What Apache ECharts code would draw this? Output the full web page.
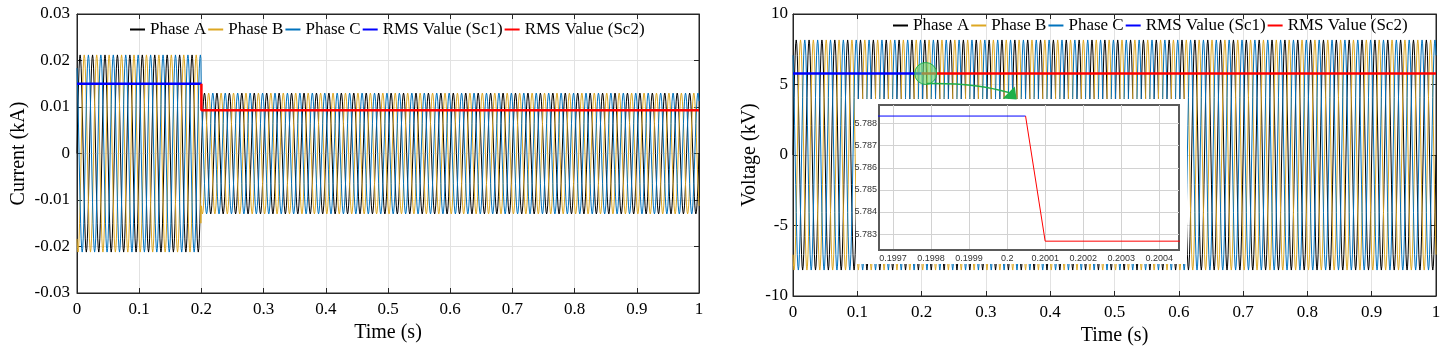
<!DOCTYPE html>
<html><head><meta charset="utf-8">
<script src="https://cdn.jsdelivr.net/npm/echarts@6/dist/echarts.min.js"></script>
<style>html,body{margin:0;padding:0;background:#fff}#c{width:1448px;height:356px}</style>
</head><body><div id="c"></div><script>
// ---------------- data ----------------
const seriesNames = ['Phase A', 'Phase B', 'Phase C', 'RMS Value (Sc1)', 'RMS Value (Sc2)'];
const seriesColors = ['#000000', '#DDA722', '#0072BD', '#0000FF', '#FF0000'];
// one 50 Hz cycle of the normalised phase waveform (24 samples)
const unitCycle = [0, 0.2588, 0.5, 0.7071, 0.866, 0.9659, 1, 0.9659, 0.866, 0.7071, 0.5, 0.2588,
                   0, -0.2588, -0.5, -0.7071, -0.866, -0.9659, -1, -0.9659, -0.866, -0.7071, -0.5, -0.2588];
const cyclesPerSecond = 50;
const phaseLagSamples = [0, 8, 16];
const timeEnd = 1;
// current panel (kA)
const currentSegStart = [0, 0.2];
const currentPeak = [0.0212, 0.0130];
const currentRmsSc1 = [[0, 0.0150], [0.2, 0.0150]];
const currentRmsSc2 = [[0.2, 0.0150], [0.2, 0.0093], [1, 0.0093]];
// voltage panel (kV)
const voltageSegStart = [0];
const voltagePeak = [8.16];
const voltageRmsSc1 = [[0, 5.788], [0.2, 5.788]];
const voltageRmsSc2 = [[0.2, 5.783], [1, 5.783]];
// inset (zoom around t = 0.2 s)
const insetRmsSc1 = [[0.1996, 5.78834], [0.2000485, 5.78834]];
const insetRmsSc2 = [[0.2000485, 5.78834], [0.2001, 5.78268], [0.2005, 5.78268]];
const insetXTicks = [0.1997, 0.1998, 0.1999, 0.2, 0.2001, 0.2002, 0.2003, 0.2004];
const insetYTicks = [5.783, 5.784, 5.785, 5.786, 5.787, 5.788];
const zoomMarker = [0.2064, 5.78];

// ---------------- build ----------------
const FONT = 'Liberation Serif';
function buildPhase(k, segStart, segPeak) {
  const n = unitCycle.length;
  const dt = 1 / (cyclesPerSecond * n);
  const total = Math.round(timeEnd / dt);
  const segIdx = segStart.map(s => Math.round(s / dt));
  const pts = [];
  for (let i = 0; i <= total; i++) {
    let s = 0;
    for (let j = 0; j < segIdx.length; j++) if (i >= segIdx[j]) s = j;
    pts.push([i * dt, segPeak[s] * unitCycle[(i - phaseLagSamples[k] + n * 100) % n]]);
  }
  return pts;
}
function line(name, data, xi, yi, width, extra) {
  const c = seriesColors[seriesNames.indexOf(name)];
  return Object.assign({
    type: 'line', name: name, data: data, xAxisIndex: xi, yAxisIndex: yi,
    symbol: 'none', showSymbol: false, animation: false, silent: true,
    lineStyle: { color: c, width: width }, itemStyle: { color: c }
  }, extra || {});
}
const AX = '#262626';
function xMain(grid, name, gap) {
  return [{
    gridIndex: grid, type: 'value', min: 0, max: 1, interval: 0.1, position: 'bottom',
    axisLine: { show: true, onZero: false, lineStyle: { color: AX, width: 1 } },
    axisTick: { inside: true, length: 5, lineStyle: { color: AX } },
    axisLabel: { fontFamily: FONT, fontSize: 17, color: '#000', margin: 8 },
    splitLine: { show: true, lineStyle: { color: '#e2e2e2' } },
    name: name, nameLocation: 'middle', nameGap: gap,
    nameTextStyle: { fontFamily: FONT, fontSize: 20, color: '#000' }
  }, {
    gridIndex: grid, type: 'value', min: 0, max: 1, interval: 0.1, position: 'top',
    axisLine: { show: true, onZero: false, lineStyle: { color: AX, width: 1 } },
    axisTick: { inside: true, length: 5, lineStyle: { color: AX } },
    axisLabel: { show: false }, splitLine: { show: false }
  }];
}
function yMain(grid, min, max, interval, name, gap, margin) {
  return [{
    gridIndex: grid, type: 'value', min: min, max: max, interval: interval, position: 'left',
    axisLine: { show: true, onZero: false, lineStyle: { color: AX, width: 1 } },
    axisTick: { show: true, inside: true, length: 5, lineStyle: { color: AX } },
    axisLabel: { fontFamily: FONT, fontSize: 17, color: '#000', margin: margin },
    splitLine: { show: true, lineStyle: { color: '#e2e2e2' } },
    name: name, nameLocation: 'middle', nameGap: gap,
    nameTextStyle: { fontFamily: FONT, fontSize: 20, color: '#000' }
  }, {
    gridIndex: grid, type: 'value', min: min, max: max, interval: interval, position: 'right',
    axisLine: { show: true, onZero: false, lineStyle: { color: AX, width: 1 } },
    axisTick: { show: true, inside: true, length: 5, lineStyle: { color: AX } },
    axisLabel: { show: false }, splitLine: { show: false }
  }];
}
const legendBase = {
  data: seriesNames, icon: 'rect', itemWidth: 15, itemHeight: 2, itemGap: 2,
  selectedMode: false, padding: 0,
  textStyle: { fontFamily: FONT, fontSize: 17, color: '#000' }
};

const series = [];
for (let k = 0; k < 3; k++) series.push(line(seriesNames[k], buildPhase(k, currentSegStart, currentPeak), 0, 0, 1));
series.push(line(seriesNames[3], currentRmsSc1, 0, 0, 2.5));
series.push(line(seriesNames[4], currentRmsSc2, 0, 0, 2.5));
for (let k = 0; k < 3; k++) series.push(line(seriesNames[k], buildPhase(k, voltageSegStart, voltagePeak), 2, 2, 1));
series.push(line(seriesNames[3], voltageRmsSc1, 2, 2, 2.5));
series.push(line(seriesNames[4], voltageRmsSc2, 2, 2, 2.5));
series.push(line(seriesNames[3], insetRmsSc1, 4, 4, 1, { zlevel: 1, z: 5 }));
series.push(line(seriesNames[4], insetRmsSc2, 4, 4, 1, { zlevel: 1, z: 5 }));

const insetLabel = { fontFamily: 'Liberation Sans', fontSize: 9, color: '#333' };
const option = {
  animation: false,
  backgroundColor: '#fff',
  grid: [
    { left: 77, top: 14, width: 622, height: 279, show: true, borderColor: AX, borderWidth: 1, backgroundColor: 'transparent' },
    { left: 793, top: 14, width: 643, height: 282, show: true, borderColor: AX, borderWidth: 1, backgroundColor: 'transparent' },
    { left: 879, top: 105, width: 300, height: 145, show: true, borderColor: '#5a5a5a', borderWidth: 2, backgroundColor: '#fff', zlevel: 1, z: 1 }
  ],
  legend: [
    Object.assign({ left: 130, top: 21 }, legendBase),
    Object.assign({ left: 893, top: 17 }, legendBase)
  ],
  xAxis: [].concat(xMain(0, 'Time (s)', 30), xMain(1, 'Time (s)', 28), [{
    gridIndex: 2, type: 'value', min: 0.199663, max: 0.200452, zlevel: 1, z: 3,
    axisLine: { show: true, onZero: false, lineStyle: { color: '#5a5a5a', width: 2 } },
    axisTick: { show: false, customValues: insetXTicks },
    axisLabel: Object.assign({ margin: 4, customValues: insetXTicks, formatter: v => String(parseFloat(v.toFixed(4))) }, insetLabel),
    splitLine: { show: true, lineStyle: { color: '#d2d2d2' } }
  }]),
  yAxis: [].concat(yMain(0, -0.03, 0.03, 0.01, 'Current (kA)', 48, 7), yMain(1, -10, 10, 5, 'Voltage (kV)', 33, 5), [{
    gridIndex: 2, type: 'value', min: 5.78228, max: 5.78884, zlevel: 1, z: 3,
    axisLine: { show: true, onZero: false, lineStyle: { color: '#5a5a5a', width: 2 } },
    axisTick: { show: false, customValues: insetYTicks },
    axisLabel: Object.assign({ margin: 2, customValues: insetYTicks, formatter: v => v.toFixed(3) }, insetLabel),
    splitLine: { show: true, lineStyle: { color: '#d2d2d2' } }
  }]),
  series: series
};
const chart = echarts.init(document.getElementById('c'), null, { renderer: 'canvas' });
chart.setOption(option);

const m = chart.convertToPixel({ xAxisIndex: 2, yAxisIndex: 2 }, zoomMarker);
const cx = m[0], cy = m[1];
const green = '#1FAF4A';
chart.setOption({
  graphic: { elements: [
    { type: 'rect', zlevel: 1, z: 0, shape: { x: 856, y: 99, width: 331, height: 165 }, style: { fill: '#fff' }, silent: true },
    { type: 'circle', zlevel: 2, z: 10, shape: { cx: cx, cy: cy, r: 11 }, style: { fill: 'rgba(110,215,110,0.65)', stroke: green, lineWidth: 1 }, silent: true },
    { type: 'bezierCurve', zlevel: 2, z: 10, shape: { x1: cx + 1, y1: cy + 10, cpx1: cx + 49, cpy1: cy + 9, x2: cx + 83, y2: cy + 19 }, style: { stroke: green, lineWidth: 1.5, fill: null }, silent: true },
    { type: 'polygon', zlevel: 2, z: 10, shape: { points: [[cx + 91, cy + 26], [cx + 77, cy + 25], [cx + 89, cy + 13]] }, style: { fill: green }, silent: true }
  ] }
});
</script></body></html>
